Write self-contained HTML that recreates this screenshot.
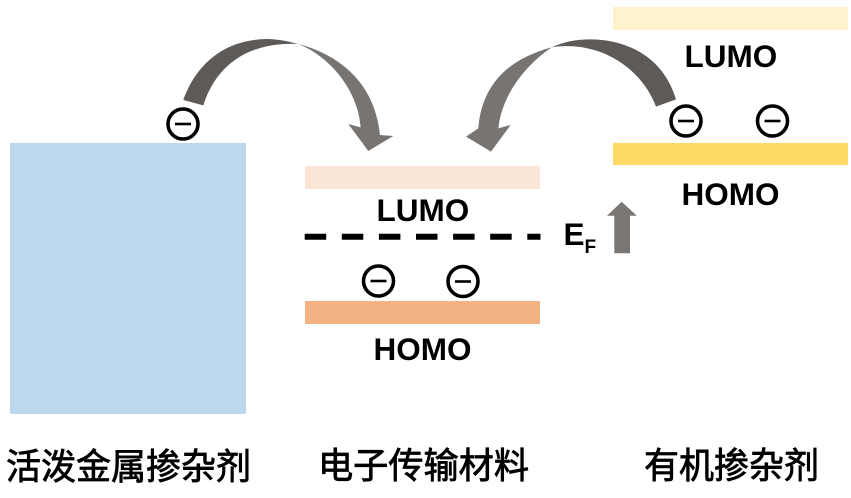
<!DOCTYPE html>
<html lang="zh">
<head>
<meta charset="utf-8">
<style>
html,body{margin:0;padding:0;background:#fff;width:851px;height:498px;overflow:hidden}
svg{display:block}
.l{font:bold 31.500px "Liberation Sans",sans-serif;fill:#000}
.c{font:normal 36px "Liberation Sans","Noto Sans CJK SC",sans-serif;fill:#000;stroke:#000;stroke-width:.8px}
</style>
</head>
<body>
<svg width="851" height="498" viewBox="0 0 851 498" xmlns="http://www.w3.org/2000/svg">
<defs>
<linearGradient id="g1" gradientUnits="userSpaceOnUse" x1="400" y1="0" x2="470" y2="0">
<stop offset="0" stop-color="#5e5a58"/><stop offset="1" stop-color="#787472"/>
</linearGradient>
<linearGradient id="g2" gradientUnits="userSpaceOnUse" x1="320" y1="0" x2="240" y2="0">
<stop offset="0" stop-color="#5e5a58"/><stop offset="1" stop-color="#787472"/>
</linearGradient>
<g id="m" fill="none" stroke="#000">
<circle r="15" stroke-width="3.600"/>
<line x1="-8" x2="8" stroke-width="2.600"/>
</g>
</defs>
<rect x="10" y="143" width="236" height="271" fill="#bdd7ee"/>
<rect x="305" y="166" width="235" height="23" fill="#fbe5d6"/>
<rect x="305" y="301" width="235" height="23" fill="#f4b183"/>
<rect x="613" y="7" width="235" height="23" fill="#fff2cc"/>
<rect x="613" y="143" width="235" height="22" fill="#ffd966"/>

<g transform="translate(150,20) scale(0.3333)">
<path fill="url(#g1)" d="M100,240 C125,170 190,60 350,57 C385,57 420,65 445,72 C570,105 675,190 690,345 L730,348 L655,393 L595,312 L632,322 C625,220 550,115 445,72 C300,65 200,130 160,256 Z"/>
</g>
<g transform="translate(460,0) scale(0.3333)">
<path fill="url(#g2)" d="M648,298 C610,170 500,118 390,118 C350,118 310,125 275,142 C150,175 65,250 55,385 L18,410 L93,455 L152,375 L115,385 C125,290 190,200 275,142 C420,120 545,205 588,320 Z"/>
</g>

<use href="#m" x="183" y="124"/>
<use href="#m" x="686" y="121"/>
<use href="#m" x="772.500" y="121"/>
<use href="#m" x="378.500" y="281"/>
<use href="#m" x="463" y="281.500"/>

<line x1="304.700" y1="236.800" x2="540.500" y2="236.800" stroke="#000" stroke-width="6" stroke-dasharray="21.500 15.600"/>

<text class="l" x="376.500" y="221">LUMO</text>
<text class="l" x="373.500" y="360">HOMO</text>
<text class="l" x="684.500" y="67">LUMO</text>
<text class="l" x="681.500" y="205">HOMO</text>
<text class="l" x="563.500" y="245">E</text>
<text x="584.500" y="253" style="font:bold 19px 'Liberation Sans',sans-serif">F</text>

<polygon points="621.700,201.700 636.700,215.700 630,215.700 630,253.300 614.300,253.300 614.300,215.700 607,215.700" fill="#7a7674"/>

<text class="c" x="6" y="479" textLength="245" lengthAdjust="spacingAndGlyphs">活泼金属掺杂剂</text>
<text class="c" x="318" y="478" textLength="211" lengthAdjust="spacingAndGlyphs">电子传输材料</text>
<text class="c" x="644" y="478" textLength="175" lengthAdjust="spacingAndGlyphs">有机掺杂剂</text>
</svg>
</body>
</html>
